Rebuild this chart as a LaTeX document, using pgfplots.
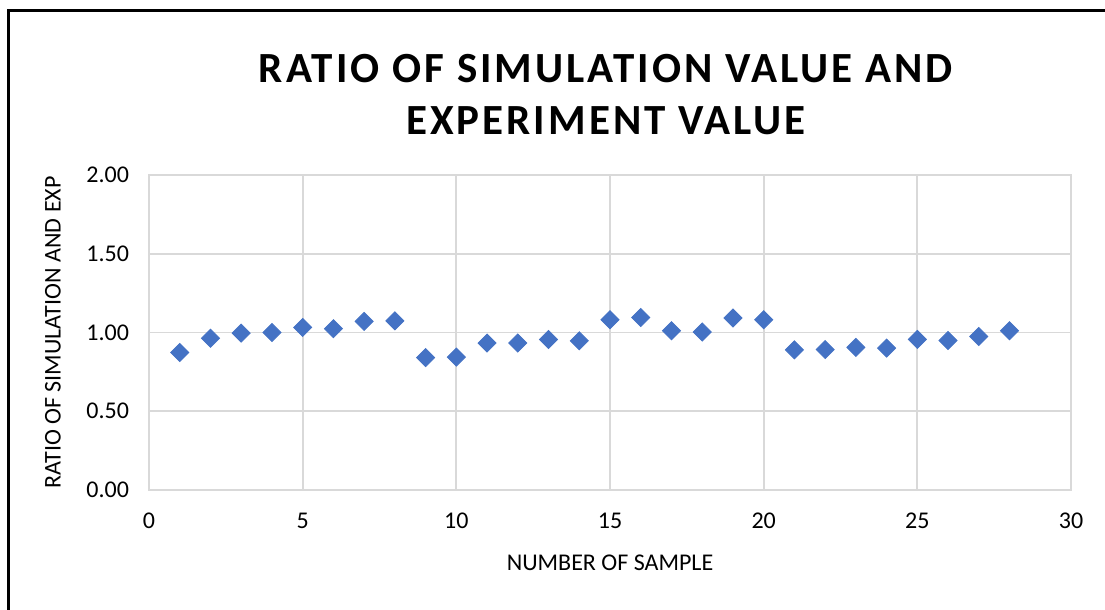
\documentclass[border=0pt]{standalone}
\usepackage{fontspec}
\setmainfont{Carlito}
\newfontfamily\titlefont[LetterSpace=7]{Carlito}
\usepackage{pgfplots}
\pgfplotsset{compat=1.18}
\definecolor{excelblue}{HTML}{4472C4}
\definecolor{gridgray}{HTML}{D9D9D9}
\begin{document}
\begin{tikzpicture}
\useasboundingbox (0pt,0pt) rectangle (552.5pt,-305pt);
\draw[black, line width=1.2pt] (4.25pt,-310pt) -- (4.25pt,-5.25pt) -- (560pt,-5.25pt);
\begin{axis}[
  at={(74.5pt,-245pt)}, anchor=south west,
  scale only axis, width=461pt, height=157.5pt,
  xmin=0, xmax=30, ymin=0, ymax=2,
  xtick={0,5,...,30}, ytick={0,0.5,1,1.5,2},
  grid=major,
  grid style={gridgray, line width=0.9pt},
  axis line style={gridgray, line width=0.9pt},
  major tick length=0pt,
  tick label style={font=\fontsize{12}{14}\selectfont, black},
  /pgf/number format/assume math mode=true,
  yticklabel style={/pgf/number format/.cd, fixed, fixed zerofill, precision=2, /tikz/.cd, xshift=-6.5pt},
  xticklabel style={yshift=-8pt},
  xlabel={NUMBER OF SAMPLE},
  ylabel={RATIO OF SIMULATION AND EXP},
  every axis x label/.style={at={(axis description cs:0.5,0)}, yshift=-36.5pt, anchor=center, font=\fontsize{12}{14}\selectfont},
  every axis y label/.style={at={(axis description cs:0,0.5)}, xshift=-48pt, rotate=90, anchor=center, font=\fontsize{12}{14}\selectfont},
  title={RATIO OF SIMULATION VALUE AND\\EXPERIMENT VALUE},
  title style={at={(axis description cs:0.5,1)}, anchor=center, yshift=34pt, xshift=-2pt, align=center, font=\titlefont\bfseries\fontsize{21.5}{26}\selectfont},
]
\addplot[only marks, mark=square*, mark size=3.2pt, mark options={rotate=45, fill=excelblue, draw=excelblue}] coordinates {
(1,0.873) (2,0.964) (3,0.996) (4,1.000) (5,1.032) (6,1.024) (7,1.070) (8,1.074)
(9,0.841) (10,0.844) (11,0.933) (12,0.933) (13,0.956) (14,0.947) (15,1.081) (16,1.095)
(17,1.011) (18,1.003) (19,1.092) (20,1.081) (21,0.890) (22,0.892) (23,0.905) (24,0.901)
(25,0.956) (26,0.949) (27,0.975) (28,1.011)
};
\end{axis}
\end{tikzpicture}
\end{document}
